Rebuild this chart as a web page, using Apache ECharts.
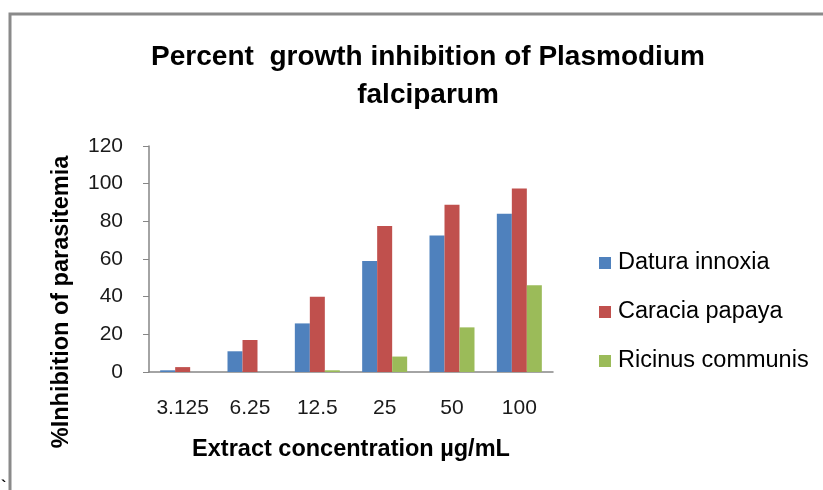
<!DOCTYPE html>
<html>
<head>
<meta charset="utf-8">
<script src="https://cdn.jsdelivr.net/npm/echarts@6/dist/echarts.min.js"></script>
<style>
  html, body { margin: 0; padding: 0; background: #fff; }
  #chart { width: 823px; height: 490px; }
</style>
</head>
<body>
<div id="chart"></div>
<script>
// concentrations (µg/mL) on the x axis
const concentrations = ['3.125', '6.25', '12.5', '25', '50', '100'];
const seriesNames = ['Datura innoxia', 'Caracia papaya', 'Ricinus communis'];
// % inhibition
const datura = [0.9, 11, 25.8, 59, 72.5, 84];
const caracia = [2.6, 17, 40, 77.5, 88.8, 97.5];
const ricinus = [0, 0, 0.9, 8.2, 23.7, 46];
const yTicks = { min: 0, max: 120, interval: 20 };

const font = 'Liberation Sans';
const colors = ['#4F81BD', '#C0504D', '#9BBB59'];

let myChart = echarts.init(document.getElementById('chart'));

let bar = (name, data) => ({
  name: name,
  type: 'bar',
  barWidth: 15,
  barGap: '0%',
  data: data
});

myChart.setOption({
  animation: false,
  color: colors,
  textStyle: { fontFamily: font },
  title: {
    text: 'Percent  growth inhibition of Plasmodium\nfalciparum',
    left: 423,
    top: 33,
    textAlign: 'center',
    textStyle: {
      fontFamily: font,
      fontSize: 28,
      fontWeight: 'bold',
      color: '#000',
      lineHeight: 38
    }
  },
  legend: {
    orient: 'vertical',
    left: 594,
    top: 246,
    icon: 'rect',
    itemWidth: 12,
    itemHeight: 12,
    itemGap: 25,
    textStyle: {
      fontFamily: font,
      fontSize: 23.5,
      color: '#000',
      lineHeight: 24,
      padding: [0, 0, 0, 2]
    },
    data: seriesNames
  },
  grid: {
    left: 149,
    right: 270,
    top: 146,
    bottom: 118,
    containLabel: false
  },
  xAxis: {
    type: 'category',
    data: concentrations,
    name: 'Extract concentration µg/mL',
    nameLocation: 'middle',
    nameGap: 66,
    nameTextStyle: {
      fontFamily: font,
      fontSize: 23.5,
      fontWeight: 'bold',
      color: '#000'
    },
    axisLine: { lineStyle: { color: '#868686', width: 1.5 } },
    axisTick: { show: false },
    axisLabel: {
      interval: 0,
      fontFamily: font,
      fontSize: 21,
      color: '#1a1a1a',
      margin: 26
    },
    splitLine: { show: false }
  },
  yAxis: {
    type: 'value',
    min: yTicks.min,
    max: yTicks.max,
    interval: yTicks.interval,
    axisLine: { show: true, lineStyle: { color: '#868686', width: 1.5 } },
    axisTick: { show: true, length: 6, lineStyle: { color: '#868686' } },
    axisLabel: {
      fontFamily: font,
      fontSize: 21,
      color: '#1a1a1a',
      margin: 26
    },
    splitLine: { show: false }
  },
  graphic: [
    // outer frame (top and left edges visible)
    {
      type: 'polyline',
      shape: { points: [[10, 490], [10, 14], [823, 14]] },
      style: { stroke: '#8a8a8a', lineWidth: 3, fill: null }
    },
    {
      type: 'text',
      x: 62,
      y: 302,
      rotation: Math.PI / 2,
      style: {
        text: '%Inhibition of parasitemia',
        font: 'bold 23.5px "Liberation Sans"',
        fill: '#000',
        align: 'center',
        verticalAlign: 'middle'
      }
    },
    {
      type: 'text',
      x: 1,
      y: 480,
      style: { text: '`', font: 'bold 16px "Liberation Sans"', fill: '#000' }
    }
  ],
  series: [
    bar(seriesNames[0], datura),
    bar(seriesNames[1], caracia),
    bar(seriesNames[2], ricinus)
  ]
});

window.addEventListener('resize', () => {
  myChart.resize();
});
</script>
</body>
</html>
